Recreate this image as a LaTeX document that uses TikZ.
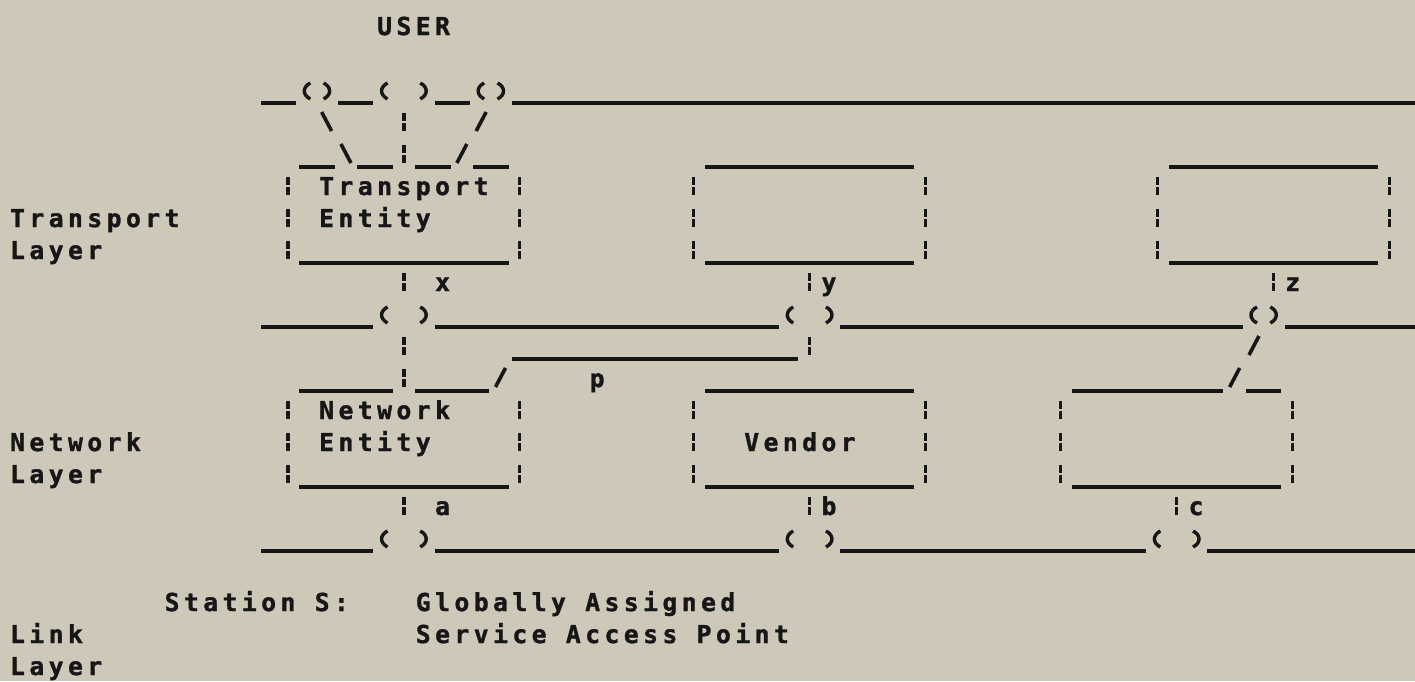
\documentclass[tikz,border=0pt]{standalone}
\usepackage{fontspec}
\newfontfamily\dotmono{DejaVu Sans Mono}[LetterSpace=18,BoldFeatures={FakeBold=1.3}]
\definecolor{paper}{RGB}{205,200,183}
\definecolor{ink}{RGB}{22,22,22}
% column centre and baseline (in reference pixels)
\newcommand\colx[1]{(17.5+19.32*(#1))}
\newcommand\rowy[1]{(35+32*(#1))}
\newcommand\Txt[4]{\node[lbl] (#1) at ({\colx{#2}-7.4},{\rowy{#3}}) {#4};}
\newcommand\VBar[2]{\draw[brk] ({\colx{#1}},{\rowy{#2}-18}) -- ({\colx{#1}},{\rowy{#2}-10})
  ({\colx{#1}},{\rowy{#2}-8}) -- ({\colx{#1}},{\rowy{#2}});}
\newcommand\ULine[3]{\draw[ul] ({\colx{#1}-8},{\rowy{#3}+4}) -- ({\colx{#2}+8},{\rowy{#3}+4});}
\newcommand\ULineR[2]{\draw[ul] ({\colx{#1}-8},{\rowy{#2}+4}) -- (1415,{\rowy{#2}+4});}
\newcommand\LPar[2]{\draw[ul] ({\colx{#1}+3},{\rowy{#2}-16}) .. controls ({\colx{#1}-5},{\rowy{#2}-12}) and ({\colx{#1}-5},{\rowy{#2}-4}) .. ({\colx{#1}+3},{\rowy{#2}});}
\newcommand\RPar[2]{\draw[ul] ({\colx{#1}-3},{\rowy{#2}-16}) .. controls ({\colx{#1}+5},{\rowy{#2}-12}) and ({\colx{#1}+5},{\rowy{#2}-4}) .. ({\colx{#1}-3},{\rowy{#2}});}
\newcommand\BSl[2]{\draw[sl] ({\colx{#1}-5},{\rowy{#2}-19}) -- ({\colx{#1}+5},{\rowy{#2}});}
\newcommand\FSl[2]{\draw[sl] ({\colx{#1}+5},{\rowy{#2}-19}) -- ({\colx{#1}-5},{\rowy{#2}});}
\begin{document}
\begin{tikzpicture}[x=0.5pt,y=-0.5pt,
  lbl/.style={anchor=base west,inner sep=0pt,outer sep=0pt,text=ink,
    font=\dotmono\bfseries\fontsize{12.35pt}{14pt}\selectfont},
  brk/.style={draw=ink,line width=1.6pt},
  ul/.style={draw=ink,line width=1.7pt},
  sl/.style={draw=ink,line width=1.8pt}]
\fill[paper] (0,0) rectangle (1415,681);
\useasboundingbox (0,0) rectangle (1415,681);

% ---------- texts ----------
\Txt{user}{19}{0}{USER}
\Txt{te1}{16}{5}{Transport}
\Txt{te2}{16}{6}{Entity}
\Txt{tl1}{0}{6}{Transport}
\Txt{tl2}{0}{7}{Layer}
\Txt{lx}{22}{8}{x}
\Txt{ly}{42}{8}{y}
\Txt{lz}{66}{8}{z}
\Txt{lp}{30}{11}{p}
\Txt{ne1}{16}{12}{Network}
\Txt{ne2}{16}{13}{Entity}
\Txt{vend}{38}{13}{Vendor}
\Txt{nl1}{0}{13}{Network}
\Txt{nl2}{0}{14}{Layer}
\Txt{la}{22}{15}{a}
\Txt{lb}{42}{15}{b}
\Txt{lc}{61}{15}{c}
\Txt{stn}{8}{18}{Station S:}
\Txt{glob}{21}{18}{Globally Assigned}
\Txt{sap}{21}{19}{Service Access Point}
\Txt{ll1}{0}{19}{Link}
\Txt{ll2}{0}{20}{Layer}

% ---------- row 2: user interface ----------
\ULine{13}{14}{2} \LPar{15}{2} \RPar{16}{2}
\ULine{17}{18}{2} \LPar{19}{2} \RPar{21}{2}
\ULine{22}{23}{2} \LPar{24}{2} \RPar{25}{2}
\ULineR{26}{2}
% row 3
\BSl{16}{3} \VBar{20}{3} \FSl{24}{3}
% row 4: box tops
\ULine{15}{16}{4} \BSl{17}{4} \ULine{18}{19}{4} \VBar{20}{4}
\ULine{21}{22}{4} \FSl{23}{4} \ULine{24}{25}{4}
\ULine{36}{46}{4}
\ULine{60}{70}{4}
% rows 5-7: transport boxes
\foreach \r in {5,6,7}{\VBar{14}{\r}\VBar{26}{\r}\VBar{35}{\r}\VBar{47}{\r}\VBar{59}{\r}\VBar{71}{\r}}
\ULine{15}{25}{7} \ULine{36}{46}{7} \ULine{60}{70}{7}
% row 8
\VBar{20}{8} \VBar{41}{8} \VBar{65}{8}
% row 9: transport/network interface
\ULine{13}{18}{9} \LPar{19}{9} \RPar{21}{9}
\ULine{22}{39}{9} \LPar{40}{9} \RPar{42}{9}
\ULine{43}{63}{9} \LPar{64}{9} \RPar{65}{9}
\ULineR{66}{9}
% row 10
\VBar{20}{10} \ULine{26}{40}{10} \VBar{41}{10} \FSl{64}{10}
% row 11: network box tops
\ULine{15}{19}{11} \VBar{20}{11} \ULine{21}{24}{11} \FSl{25}{11}
\ULine{36}{46}{11}
\ULine{55}{62}{11} \FSl{63}{11} \ULine{64}{65}{11}
% rows 12-14: network boxes
\foreach \r in {12,13,14}{\VBar{14}{\r}\VBar{26}{\r}\VBar{35}{\r}\VBar{47}{\r}\VBar{54}{\r}\VBar{66}{\r}}
\ULine{15}{25}{14} \ULine{36}{46}{14} \ULine{55}{65}{14}
% row 15
\VBar{20}{15} \VBar{41}{15} \VBar{60}{15}
% row 16: network/link interface
\ULine{13}{18}{16} \LPar{19}{16} \RPar{21}{16}
\ULine{22}{39}{16} \LPar{40}{16} \RPar{42}{16}
\ULine{43}{58}{16} \LPar{59}{16} \RPar{61}{16}
\ULineR{62}{16}
\end{tikzpicture}
\end{document}
